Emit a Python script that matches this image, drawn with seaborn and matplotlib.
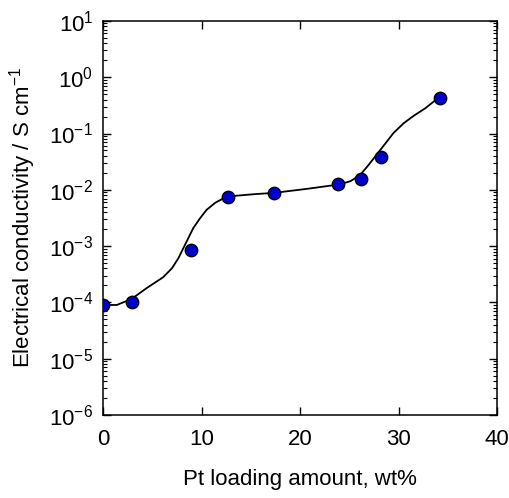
import numpy as np
import pandas as pd
import matplotlib
matplotlib.use("Agg")
import matplotlib.pyplot as plt
import seaborn as sns
from matplotlib.ticker import LogLocator, LogFormatterMathtext, NullFormatter

# measured points
pt_loading = [0.0, 2.9, 8.9, 12.65, 17.3, 23.8, 26.2, 28.2, 34.15]
conductivity = [8.95e-5, 1.0e-4, 8.5e-4, 7.6e-3, 8.95e-3, 1.28e-2, 1.55e-2, 3.75e-2, 4.36e-1]

# guide curve
curve_x = [0.0, 1.4, 2.9, 4.4, 6.1, 7.0, 7.65, 8.15, 8.65, 9.15, 9.85, 10.5, 11.4,
           12.55, 13.7, 15.5, 17.3, 20.7, 23.0, 24.05, 25.1, 26.1, 26.95, 27.6, 28.45,
           29.45, 30.5, 31.5, 32.7, 33.85, 34.15]
curve_y = [9.0e-5, 9.0e-5, 1.15e-4, 1.78e-4, 2.80e-4, 4.05e-4, 6.1e-4, 9.2e-4, 1.38e-3,
           2.08e-3, 3.13e-3, 4.39e-3, 5.91e-3, 7.57e-3, 7.9e-3, 8.4e-3, 8.8e-3, 1.04e-2,
           1.18e-2, 1.26e-2, 1.42e-2, 1.84e-2, 2.77e-2, 3.88e-2, 6.0e-2, 1.01e-1, 1.52e-1,
           2.05e-1, 2.81e-1, 4.06e-1, 4.42e-1]

sns.set_style("ticks")
plt.rcParams.update({
    "font.family": ["Liberation Sans", "DejaVu Sans"],
    "mathtext.fontset": "custom",
    "mathtext.rm": "Liberation Sans",
    "mathtext.it": "Liberation Sans:italic",
    "mathtext.bf": "Liberation Sans:bold",
    "text.color": "black",
    "axes.labelcolor": "black",
    "xtick.color": "black",
    "ytick.color": "black",
})

df_pts = pd.DataFrame({"x": pt_loading, "y": conductivity})
df_curve = pd.DataFrame({"x": curve_x, "y": curve_y})

fig = plt.figure(figsize=(5.10, 4.98), dpi=100)
ax = fig.add_axes([0.202, 0.1667, 0.773, 0.7913])

sns.lineplot(data=df_curve, x="x", y="y", ax=ax, color="black", linewidth=1.3,
             solid_joinstyle="round", zorder=2)
sns.scatterplot(data=df_pts, x="x", y="y", ax=ax, color="#0000cc", edgecolor="black",
                linewidth=1.0, s=80, zorder=3)

ax.set_yscale("log")
ax.set_xlim(0, 40)
ax.set_ylim(1e-6, 1e1)
ax.set_xticks([0, 10, 20, 30, 40])
ax.yaxis.set_major_locator(LogLocator(base=10, numticks=20))
ax.yaxis.set_major_formatter(LogFormatterMathtext())
ax.yaxis.set_minor_locator(LogLocator(base=10, subs=np.arange(2, 10), numticks=20))
ax.yaxis.set_minor_formatter(NullFormatter())

ax.tick_params(which="major", direction="in", length=6, width=1.0, top=True, right=True,
               labelsize=16, pad=7)
ax.tick_params(axis="x", which="major", pad=10)
ax.tick_params(which="minor", direction="in", length=3, width=0.8, top=True, right=True)
for s in ax.spines.values():
    s.set_linewidth(1.1)
    s.set_color("black")

ax.set_xlabel("Pt loading amount, wt%", fontsize=16, labelpad=14)
ax.set_ylabel("Electrical conductivity / S cm$^{-1}$", fontsize=16, labelpad=8)

fig.savefig("out.png", dpi=100)
